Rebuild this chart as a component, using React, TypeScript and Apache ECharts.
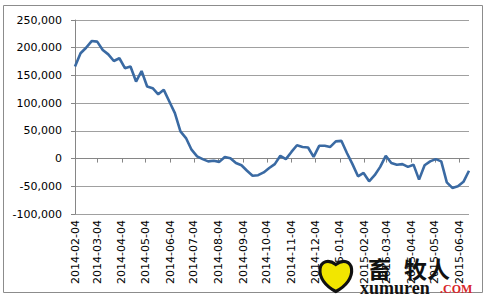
import React, { useEffect, useRef } from "react";
import * as echarts from "echarts";

// Weekly observations starting 2014-02-04
const startDate = "2014-02-04";
const values = [
  166000, 190000, 200000, 212000, 211000, 196000, 188000, 176000, 181000, 163000,
  166000, 139000, 158000, 130000, 127000, 116000, 124000, 103000, 82000, 49000,
  37000, 16000, 4000, -1000, -5000, -4000, -6000, 3000, 700, -8000,
  -12000, -22000, -31000, -30000, -25000, -17000, -10000, 5000, -1000, 12000,
  24000, 21000, 20000, 3000, 23000, 23000, 21000, 31000, 32000, 10000,
  -10000, -32000, -26000, -41000, -30000, -15000, 5000, -8000, -11000, -10000,
  -15000, -11000, -38000, -12000, -5000, -1000, -5000, -43000, -53000, -50000,
  -42000, -22000,
];
const yTicks = { min: -100000, max: 250000, interval: 50000 };

function fmt(d: Date) {
  const m = String(d.getUTCMonth() + 1).padStart(2, "0");
  const day = String(d.getUTCDate()).padStart(2, "0");
  return `${d.getUTCFullYear()}-${m}-${day}`;
}

const start = new Date(startDate + "T00:00:00Z");
const weeklyDates = values.map((_, i) => fmt(new Date(start.getTime() + i * 7 * 86400000)));
const lastDate = new Date(start.getTime() + (values.length - 1) * 7 * 86400000);
const dayCategories: string[] = [];
for (let t = start.getTime(); t <= lastDate.getTime(); t += 86400000) {
  dayCategories.push(fmt(new Date(t)));
}

const heartPath =
  "M16 31 C6 26 0 18 1 10 C2 3 9 1 16 6 C23 1 30 3 31 10 C32 18 26 26 16 31 Z";
echarts.graphic.registerShape("heart", echarts.graphic.extendPath(heartPath, {}) as any);

export default function App() {
  const ref = useRef<HTMLDivElement>(null);
  useEffect(() => {
    const chart = echarts.init(ref.current!, null, { renderer: "svg" });
    const isMonthTick = (_i: number, v: string) => v.endsWith("-04");
    chart.setOption({
      animation: false,
      grid: { left: 75, right: 18, top: 20, bottom: 83, containLabel: false },
      xAxis: [
        {
          type: "category",
          data: dayCategories,
          boundaryGap: false,
          position: "bottom",
          axisLine: { show: false, onZero: false },
          axisTick: { show: false },
          axisLabel: {
            interval: isMonthTick,
            rotate: 90,
            margin: 6,
            color: "#000",
            fontFamily: "DejaVu Sans",
            fontSize: 11,
          },
        },
        {
          type: "category",
          data: dayCategories,
          boundaryGap: false,
          position: "bottom",
          axisLine: { show: true, onZero: true, lineStyle: { color: "#868686", width: 1 } },
          axisTick: { show: true, interval: isMonthTick, length: 4, lineStyle: { color: "#868686" } },
          axisLabel: { show: false },
        },
      ],
      yAxis: {
        type: "value",
        min: yTicks.min,
        max: yTicks.max,
        interval: yTicks.interval,
        axisLine: { show: true, lineStyle: { color: "#868686" } },
        axisTick: { show: true, length: 4, lineStyle: { color: "#868686" } },
        splitLine: { show: true, lineStyle: { color: "#a0a0a0", width: 1 } },
        axisLabel: {
          margin: 13,
          color: "#000",
          fontFamily: "DejaVu Sans",
          fontSize: 11,
          formatter: (v: number) => v.toLocaleString("en-US"),
        },
      },
      series: [
        {
          type: "line",
          xAxisIndex: 0,
          data: weeklyDates.map((d, i) => [d, values[i]]),
          showSymbol: false,
          lineStyle: { color: "#3a6aa3", width: 2.6 },
          itemStyle: { color: "#3a6aa3" },
        },
      ],
      graphic: [
        {
          type: "rect",
          shape: { x: 3.5, y: 5.5, width: 479, height: 287 },
          style: { fill: "none", stroke: "#8c8c8c", lineWidth: 1 },
          z: 0,
        },
        {
          type: "heart",
          x: 319,
          y: 258,
          scaleX: 1.05,
          scaleY: 1.08,
          style: { fill: "#f2e600", stroke: "#111", lineWidth: 3 },
          z: 10,
        },
        {
          type: "text",
          x: 368,
          y: 256,
          style: { text: "畜", font: "bold 23px 'Noto Sans CJK SC'", fill: "#111" },
          z: 10,
        },
        {
          type: "text",
          x: 404,
          y: 256,
          style: { text: "牧人", font: "bold 23px 'Noto Sans CJK SC'", fill: "#111" },
          z: 10,
        },
        {
          type: "text",
          x: 360,
          y: 279,
          style: { text: "xumuren", font: "bold 18px 'Liberation Serif'", fill: "#111" },
          z: 10,
        },
        {
          type: "text",
          x: 440,
          y: 283,
          style: { text: ".COM", font: "bold 12px 'Liberation Serif'", fill: "#d8262a" },
          z: 10,
        },
      ],
    });
    return () => chart.dispose();
  }, []);
  return (
    <div
      ref={ref}
      style={{ position: "absolute", left: 0, top: 0, width: 487, height: 297, background: "#fff" }}
    />
  );
}
